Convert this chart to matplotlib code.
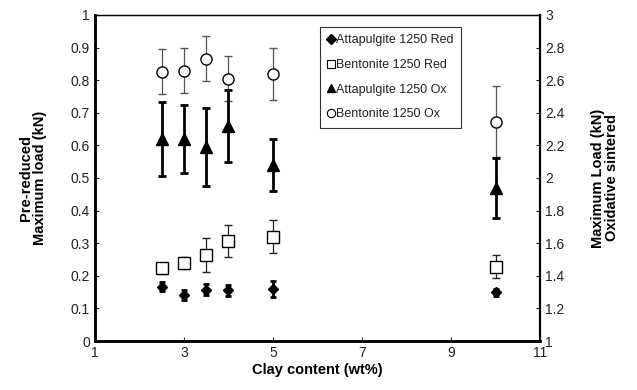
import matplotlib
matplotlib.use("Agg")
import matplotlib.pyplot as plt
from matplotlib.lines import Line2D

plt.rcParams['font.family'] = ['Liberation Sans', 'DejaVu Sans']

clay = [2.5, 3, 3.5, 4, 5, 10]

# pre-reduced (left axis)
att_red = [0.167, 0.142, 0.158, 0.155, 0.160, 0.149]
att_red_err = [0.013, 0.016, 0.018, 0.017, 0.025, 0.010]
ben_red = [0.223, 0.240, 0.263, 0.307, 0.320, 0.228]
ben_red_err = [0.016, 0.019, 0.052, 0.049, 0.050, 0.036]

# oxidative sintered (right axis)
att_ox = [2.24, 2.24, 2.19, 2.32, 2.08, 1.94]
att_ox_err = [0.225, 0.21, 0.24, 0.22, 0.16, 0.185]
ben_ox = [2.652, 2.658, 2.732, 2.61, 2.636, 2.346]
ben_ox_err = [0.138, 0.138, 0.14, 0.136, 0.16, 0.22]

labels = ['Attapulgite 1250 Red', 'Bentonite 1250 Red',
          'Attapulgite 1250 Ox', 'Bentonite 1250 Ox']

fig = plt.figure(figsize=(6.37, 3.9), dpi=100)
ax = fig.add_axes([0.149, 0.1256, 0.699, 0.836])
ax2 = ax.twinx()

ax.errorbar(clay, att_red, yerr=att_red_err, fmt='D', color='black',
            ms=5, ecolor='black', elinewidth=2, capsize=2.5, capthick=2)
ax.errorbar(clay, ben_red, yerr=ben_red_err, fmt='s', mfc='white', mec='black',
            ms=8, mew=1, ecolor='#222222', elinewidth=0.9, capsize=3)
ax2.errorbar(clay, ben_ox, yerr=ben_ox_err, fmt='o', mfc='white', mec='black',
             ms=8, mew=1, ecolor='#555555', elinewidth=0.9, capsize=3, zorder=2)
ax2.errorbar(clay, att_ox, yerr=att_ox_err, fmt='^', color='black',
             ms=8, ecolor='black', elinewidth=2, capsize=3, capthick=2, zorder=3)

ax.set_xlim(1, 11)
ax.set_ylim(0, 1)
ax2.set_ylim(1, 3)
ax.set_xticks([1, 3, 5, 7, 9, 11])
ax.set_yticks([i / 10 for i in range(11)])
ax.set_yticklabels(['0', '0.1', '0.2', '0.3', '0.4', '0.5', '0.6', '0.7', '0.8', '0.9', '1'])
ax2.set_yticks([1, 1.2, 1.4, 1.6, 1.8, 2, 2.2, 2.4, 2.6, 2.8, 3])
ax2.set_yticklabels(['1', '1.2', '1.4', '1.6', '1.8', '2', '2.2', '2.4', '2.6', '2.8', '3'])

ax.tick_params(axis='both', direction='in', length=3, labelsize=10, colors='#222222')
ax2.tick_params(axis='y', direction='in', length=3, labelsize=10, colors='#222222')

for a in (ax, ax2):
    a.spines['left'].set_linewidth(1.8)
    a.spines['bottom'].set_linewidth(1.8)
    a.spines['right'].set_linewidth(1.5)
    a.spines['top'].set_linewidth(0.9)

ax.set_xlabel('Clay content (wt%)', fontsize=10.5, fontweight='bold', labelpad=2)
ax.set_ylabel('Pre-reduced\nMaximum load (kN)', fontsize=10.5, fontweight='bold',
              labelpad=17, linespacing=1.0)
ax2.set_ylabel('Maximum Load (kN)\nOxidative sintered', fontsize=10.5, fontweight='bold',
               rotation=90, labelpad=19, linespacing=1.0)

# legend shows markers only
handles = [
    Line2D([], [], ls='none', marker='D', color='black', ms=5),
    Line2D([], [], ls='none', marker='s', mfc='white', mec='black', ms=6, mew=0.8),
    Line2D([], [], ls='none', marker='^', color='black', ms=6),
    Line2D([], [], ls='none', marker='o', mfc='white', mec='black', ms=6, mew=0.8),
]
leg = fig.legend(handles, labels,
                 loc='upper left', bbox_to_anchor=(320 / 637, 1 - 27 / 390),
                 fontsize=9, frameon=True, fancybox=False, handlelength=0.5,
                 handletextpad=0.15, borderpad=0.6, labelspacing=1.0, borderaxespad=0)
leg.get_frame().set_edgecolor('black')
leg.get_frame().set_linewidth(0.8)
for t in leg.get_texts():
    t.set_color('#222222')

fig.savefig('out.png', dpi=100)
